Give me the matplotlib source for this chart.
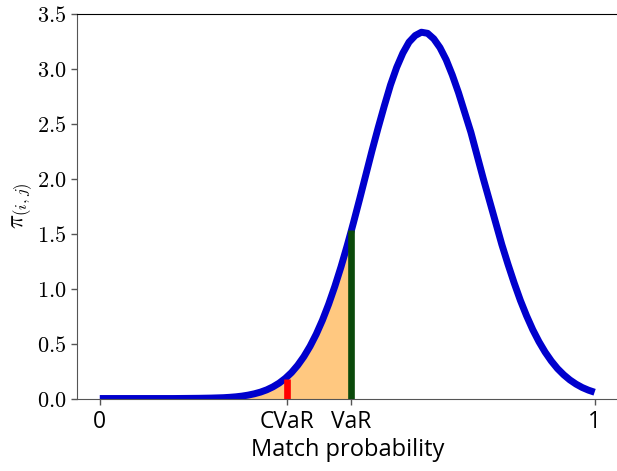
import matplotlib
matplotlib.use("Agg")
import matplotlib.pyplot as plt

plt.rcParams['mathtext.fontset'] = 'cm'

# density of match probability
x = [0.0, 0.05, 0.1, 0.15, 0.175, 0.2, 0.225,
     0.25, 0.2625, 0.275, 0.2875, 0.3, 0.3125, 0.325, 0.3375, 0.35, 0.3625,
     0.375, 0.3875, 0.4, 0.4125, 0.425, 0.4375, 0.45, 0.4625, 0.475, 0.4875,
     0.5, 0.508, 0.5125, 0.525, 0.5375, 0.55, 0.5625, 0.575, 0.5875,
     0.6, 0.6125, 0.625, 0.6375, 0.65, 0.6625, 0.675, 0.6875, 0.7, 0.7125,
     0.725, 0.7375, 0.75, 0.7625, 0.775, 0.7875, 0.8, 0.8125, 0.825, 0.8375,
     0.85, 0.8625, 0.875, 0.8875, 0.9, 0.9125, 0.925, 0.9375, 0.95, 0.9625,
     0.975, 0.9875, 1.0]
y = [0.0, 0.0, 0.0, 0.0, 0.001, 0.002, 0.004,
     0.0075, 0.011, 0.0155, 0.022, 0.031, 0.043, 0.0585, 0.079, 0.106, 0.140,
     0.183, 0.236, 0.302, 0.381, 0.475, 0.585, 0.712, 0.857, 1.019, 1.197,
     1.39, 1.52, 1.595, 1.81, 2.03, 2.25, 2.46, 2.66, 2.85,
     3.01, 3.14, 3.24, 3.30, 3.33, 3.32, 3.27, 3.19, 3.08, 2.94,
     2.78, 2.60, 2.42, 2.21, 2.0, 1.80, 1.6, 1.40, 1.22, 1.05,
     0.892, 0.752, 0.626, 0.517, 0.422, 0.341, 0.272, 0.216, 0.169, 0.131,
     0.100, 0.076, 0.057]

var_x = 0.508
var_h = 1.53
cvar_x = 0.378
cvar_h = 0.18

xtick_pos = [0, cvar_x, var_x, 1]
xtick_lab = ["0", "CVaR", "VaR", "1"]
ytick_pos = [0.0, 0.5, 1.0, 1.5, 2.0, 2.5, 3.0, 3.5]

fig = plt.figure(figsize=(6.17, 4.71), dpi=100)
ax = fig.add_axes([0.1248, 0.1539, 0.879, 0.8174])

# shaded tail up to VaR
xs = [v for v in x if v <= var_x]
ys = y[:len(xs)]
ax.fill_between(xs, 0, ys, color="#ffc880", lw=0, zorder=1)
ax.plot(x, y, color="#0000cd", lw=5, solid_capstyle="butt",
        solid_joinstyle="round", zorder=2)
ax.vlines(cvar_x, 0, cvar_h, color="red", lw=4.8, zorder=3)
ax.vlines(var_x, 0, var_h, color="#0b4a0b", lw=4.8, zorder=3)

ax.set_xlim(-0.046, 1.05)
ax.set_ylim(0, 3.5)

ax.set_xticks(xtick_pos)
ax.set_xticklabels(xtick_lab, family="Open Sans", fontsize=16.5)
ax.set_yticks(ytick_pos)
ax.set_yticklabels(["$%.1f$" % v for v in ytick_pos], fontsize=16)
ax.tick_params(color="#555555", length=4, width=1)
ax.tick_params(axis="x", pad=4)

ax.set_xlabel("Match probability", family="Open Sans", fontsize=17, labelpad=3)
ax.set_ylabel(r"$\pi_{(i,j)}$", fontsize=17, labelpad=2)

ax.spines["right"].set_visible(False)
ax.spines["left"].set_color("#555555")
ax.spines["bottom"].set_color("#555555")
ax.spines["top"].set_color("black")

fig.savefig("out.png", dpi=100)
